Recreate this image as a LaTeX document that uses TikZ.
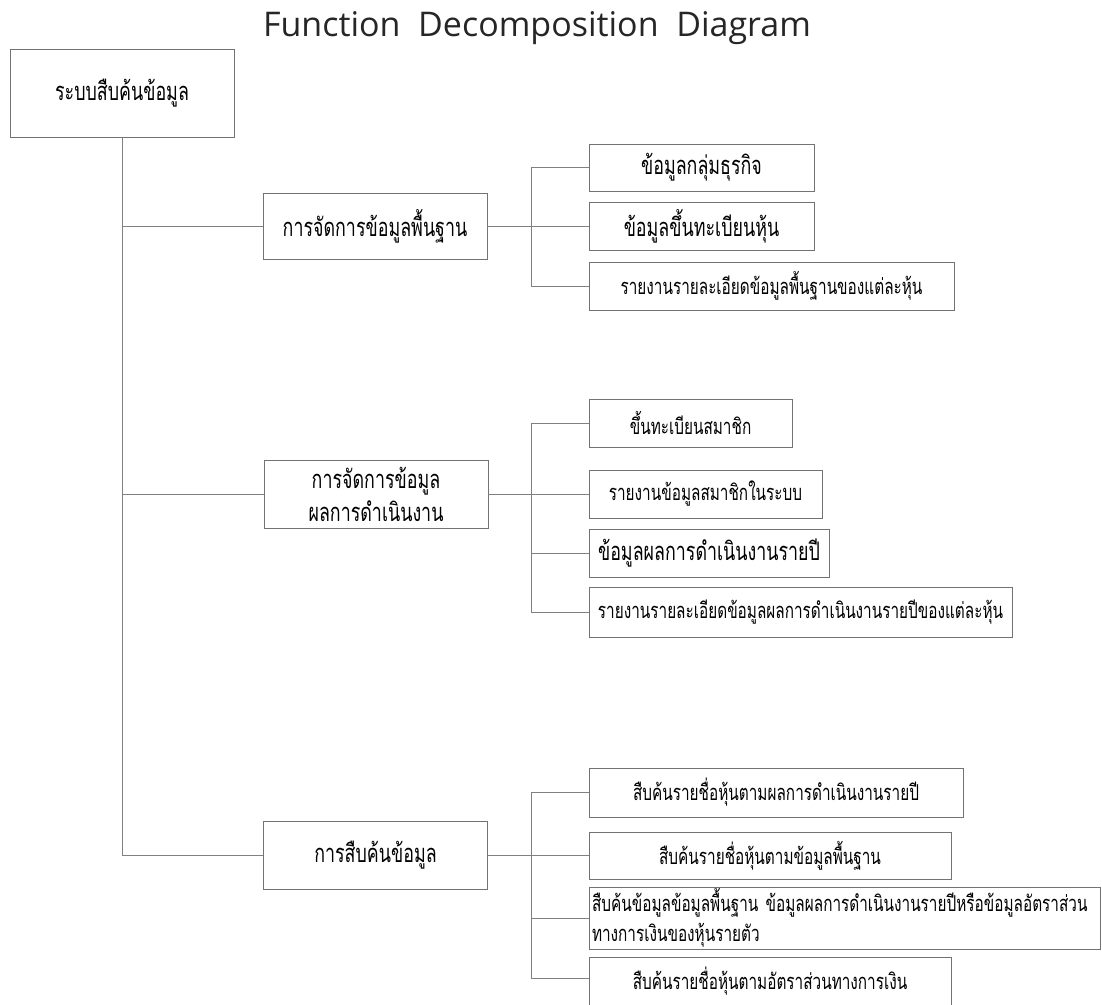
\documentclass[tikz,border=0pt]{standalone}
\usepackage{fontspec}
\setmainfont{Open Sans}
\newfontfamily\thai[Script=Thai,FakeStretch=0.7]{Loma}
\begin{document}
\begin{tikzpicture}[x=1pt,y=1pt,
  box/.style={draw=black!55, line width=0.7pt, inner sep=0pt, align=center, fill=white},
  big/.style={font=\thai\fontsize{25.5}{33}\selectfont},
  small/.style={font=\thai\fontsize{21.9}{30}\selectfont},
  conn/.style={draw=black!50, line width=0.6pt}]
\useasboundingbox[fill=white] (0,0) rectangle (1102,-1004);
\node[anchor=base, font=\fontsize{34}{40}\selectfont, text=black!85] (title) at (537,-36) {Function\ \ Decomposition\ \ Diagram};
% root
\node[box, big, minimum width=224pt, minimum height=88pt] (root) at (122,-93) {ระบบสืบค้นข้อมูล};
% level 1
\node[box, big, minimum width=224pt, minimum height=66pt] (b1) at (375,-226) {การจัดการข้อมูลพื้นฐาน};
\node[box, big, minimum width=224pt, minimum height=68pt] (b2) at (376,-494) {การจัดการข้อมูล\\ผลการดำเนินงาน};
\node[box, big, minimum width=224pt, minimum height=68pt] (b3) at (375.5,-855.5) {การสืบค้นข้อมูล};
% group 1
\node[box, big, minimum width=225pt, minimum height=47pt] (c11) at (701.5,-167.5) {ข้อมูลกลุ่มธุรกิจ};
\node[box, big, minimum width=225pt, minimum height=48pt] (c12) at (701.5,-226) {ข้อมูลขึ้นทะเบียนหุ้น};
\node[box, small, minimum width=365pt, minimum height=48pt] (c13) at (771.5,-286) {รายงานรายละเอียดข้อมูลพื้นฐานของแต่ละหุ้น};
% group 2
\node[box, small, minimum width=203pt, minimum height=48pt] (c21) at (690.5,-423) {ขึ้นทะเบียนสมาชิก};
\node[box, small, minimum width=233pt, minimum height=48pt] (c22) at (705.5,-494) {รายงานข้อมูลสมาชิกในระบบ};
\node[box, big, minimum width=240pt, minimum height=48pt] (c23) at (709,-553) {ข้อมูลผลการดำเนินงานรายปี};
\node[box, small, minimum width=423pt, minimum height=50pt] (c24) at (800.5,-612) {รายงานรายละเอียดข้อมูลผลการดำเนินงานรายปีของแต่ละหุ้น};
% group 3
\node[box, small, minimum width=374pt, minimum height=49pt] (c31) at (776,-792.5) {สืบค้นรายชื่อหุ้นตามผลการดำเนินงานรายปี};
\node[box, small, minimum width=362pt, minimum height=47pt] (c32) at (770,-855.5) {สืบค้นรายชื่อหุ้นตามข้อมูลพื้นฐาน};
\node[box, small, align=left, text width=505pt, inner xsep=3pt, minimum height=62pt] (c33) at (844.5,-918) {สืบค้นข้อมูลข้อมูลพื้นฐาน ข้อมูลผลการดำเนินงานรายปีหรือข้อมูลอัตราส่วน\\ทางการเงินของหุ้นรายตัว};
\node[box, small, minimum width=362pt, minimum height=48pt] (c34) at (770,-981) {สืบค้นรายชื่อหุ้นตามอัตราส่วนทางการเงิน};
% junctions
\coordinate (j1) at (531,-226);
\coordinate (j2) at (531,-494);
\coordinate (j3) at (531,-855.5);
% root connectors
\draw[conn] (root.south) -- (root.south |- b3.west) -- (b3.west);
\draw[conn] (root.south |- b1.west) -- (b1.west);
\draw[conn] (root.south |- b2.west) -- (b2.west);
% group connectors
\draw[conn] (b1.east) -- (j1);
\draw[conn] (c11.west) -| (j1);
\draw[conn] (c12.west) -- (j1);
\draw[conn] (c13.west) -| (j1);
\draw[conn] (b2.east) -- (j2);
\draw[conn] (c21.west) -| (j2);
\draw[conn] (c22.west) -- (j2);
\draw[conn] (c23.west) -| (j2);
\draw[conn] (c24.west) -| (j2);
\draw[conn] (b3.east) -- (j3);
\draw[conn] (c31.west) -| (j3);
\draw[conn] (c32.west) -- (j3);
\draw[conn] (c33.west) -| (j3);
\draw[conn] ([yshift=3pt]c34.west) -| (j3);
\end{tikzpicture}
\end{document}
